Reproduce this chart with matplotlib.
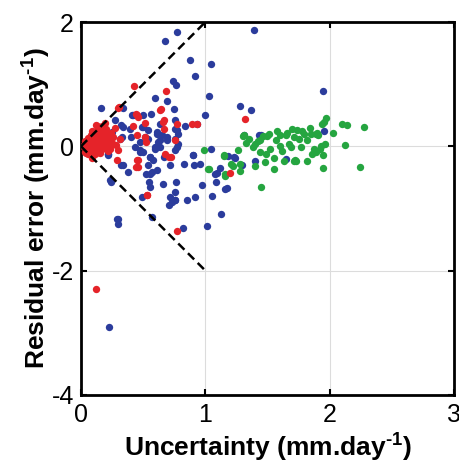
import matplotlib.pyplot as plt

plt.rcParams['font.family'] = ['Liberation Sans', 'DejaVu Sans']
plt.rcParams['mathtext.fontset'] = 'custom'
plt.rcParams['mathtext.rm'] = 'Liberation Sans:bold'
plt.rcParams['mathtext.bf'] = 'Liberation Sans:bold'
plt.rcParams['axes.unicode_minus'] = False

# blue points (uncertainty, residual error)
blue_x = [0.772, 0.677, 0.879, 1.048, 0.914, 0.737, 0.766, 1.027, 0.597, 0.691,
          0.159, 0.750, 1.277, 1.371, 1.000, 0.839, 0.274, 0.341, 0.409, 0.489,
          0.543, 0.637, 0.758, 0.772, 0.610, 0.247, 0.328, 0.476, 0.543, 0.637,
          0.691, 0.758, 0.597, 0.637, 0.772, 0.476, 0.556, 0.664, 0.220, 0.341,
          0.382, 0.543, 0.556, 0.610, 0.718, 0.825, 0.906, 0.954, 0.234, 0.551,
          0.659, 0.766, 0.973, 0.758, 0.718, 0.731, 0.852, 0.914, 1.054, 0.898,
          1.080, 1.161, 1.129, 0.301, 0.570, 1.228, 1.296, 1.390, 0.288, 0.301,
          0.710, 0.758, 0.817, 1.014, 0.226, 1.946, 1.952, 1.430, 1.046, 1.183,
          1.242, 1.398, 1.651, 1.121, 1.094, 1.086, 1.175, 0.419, 0.500, 0.567,
          0.325, 0.392, 0.500, 0.608, 0.648, 0.755, 0.782, 0.245, 0.312, 0.406,
          0.513, 0.621, 0.688, 0.782, 0.433, 0.500, 0.594, 0.755, 0.218, 0.554,
          0.903, 0.218, 0.473, 0.581, 0.325, 0.527, 0.573, 0.245, 0.554, 0.487,
          0.755, 0.339, 0.933, 1.310, 1.450]
blue_y = [1.838, 1.688, 1.383, 1.330, 1.125, 1.045, 0.981, 0.809, 0.783, 0.728,
          0.616, 0.595, 0.643, 0.590, 0.498, 0.320, 0.429, 0.310, 0.498, 0.310,
          0.257, 0.365, 0.418, 0.257, 0.204, 0.230, 0.150, 0.069, 0.124, 0.096,
          0.150, 0.124, -0.011, -0.011, -0.011, -0.092, -0.172, -0.172, -0.117, -0.305,
          -0.413, -0.305, -0.439, -0.386, -0.305, -0.289, -0.305, -0.278, -0.547, -0.574,
          -0.600, -0.574, -0.627, -0.735, -0.815, -0.895, -0.857, -0.815, -0.804, -0.145,
          -0.439, -0.680, -1.082, -1.162, -1.137, -0.172, -0.305, 1.880, -1.162, -1.243,
          -0.949, -0.868, -1.307, -1.286, -2.905, 0.884, 0.246, 0.177, -0.037, -0.161,
          -0.188, -0.241, -0.198, -0.349, -0.429, -0.574, -0.664, 0.498, 0.498, 0.525,
          0.338, 0.284, 0.310, 0.230, 0.177, 0.284, 0.204, 0.204, 0.124, 0.150,
          0.150, 0.069, 0.096, 0.043, -0.011, -0.092, -0.037, -0.064, -0.117, -0.172,
          -0.145, -0.145, -0.064, -0.225, -0.305, -0.439, -0.413, -0.574, -0.654, -0.815,
          -0.857, 0.622, 0.354, 0.177, 0.177]

# red points
red_x = [0.427, 0.680, 0.643, 0.298, 0.632, 0.309, 0.449, 0.516, 0.664, 0.417,
         0.933, 0.892, 0.449, 0.516, 0.664, 0.704, 0.449, 0.462, 0.530, 1.323,
         1.196, 0.315, 0.446, 0.460, 0.661, 0.769, 0.527, 0.755, 0.285, 0.675,
         0.298, 0.293, 0.460, 0.446, 0.723, 0.535, 0.774, 0.118,
         0.02, 0.03, 0.04, 0.05, 0.05, 0.06, 0.07, 0.07, 0.08, 0.08,
         0.09, 0.10, 0.10, 0.10, 0.11, 0.12, 0.12, 0.13, 0.13, 0.14,
         0.14, 0.15, 0.15, 0.16, 0.16, 0.17, 0.17, 0.18, 0.18, 0.19,
         0.19, 0.20, 0.20, 0.21, 0.22, 0.22, 0.23, 0.24, 0.25, 0.26,
         0.27, 0.09, 0.11, 0.06, 0.04, 0.13, 0.03, 0.03, 0.09, 0.14,
         0.12, 0.17, 0.21, 0.24, 0.08, 0.15, 0.19, 0.23, 0.11, 0.06]
red_y = [0.965, 0.889, 0.606, 0.622, 0.590, 0.632, 0.498, 0.375, 0.429, 0.322,
         0.365, 0.354, 0.177, 0.150, 0.284, -0.172, -0.214, -0.333, -0.788, 0.445,
         -0.429, 0.124, 0.525, 0.470, 0.390, 0.365, 0.069, 0.096, 0.016, -0.117,
         -0.064, -0.225, -0.225, -0.333, -0.172, -0.788, -1.367, -2.300,
         0.00, 0.03, -0.03, 0.05, -0.06, 0.01, 0.08, -0.04, 0.12, 0.02,
         -0.08, 0.15, 0.05, -0.02, 0.20, 0.10, -0.06, 0.25, 0.00, 0.15,
         0.07, -0.10, 0.30, 0.20, 0.03, 0.12, -0.05, 0.25, 0.06, 0.17,
         -0.02, 0.10, 0.28, 0.02, 0.18, -0.08, 0.12, 0.22, 0.05, 0.15,
         0.30, 0.25, -0.12, -0.12, -0.10, 0.32, 0.08, -0.09, -0.18, -0.06,
         0.35, 0.33, 0.06, 0.02, 0.18, 0.12, 0.38, -0.04, 0.04, 0.14]

# green points
green_x = [1.968, 1.954, 2.100, 2.140, 2.280, 2.030, 2.120, 2.240, 1.950, 1.950,
           1.960, 1.870, 1.890, 1.860, 1.820, 1.710, 1.730, 1.630, 1.690, 1.670,
           1.600, 1.600, 1.650, 1.510, 1.500, 1.440, 1.400, 1.380, 1.440, 1.490,
           1.550, 1.480, 1.400, 1.280, 1.280, 1.210, 1.160, 1.020, 0.990, 1.260,
           1.150, 1.300, 1.450, 1.550, 1.740, 1.700, 1.750, 1.790, 1.850, 1.890,
           1.820, 1.770, 1.310, 1.460, 1.710, 1.910, 1.940, 1.150, 1.030, 1.160,
           1.220, 1.350, 1.330, 1.420, 1.570, 1.620, 1.520, 1.780, 1.840, 1.900,
           1.660, 1.720, 1.920, 1.930, 1.580]
green_y = [0.455, 0.390, 0.360, 0.350, 0.310, 0.210, 0.020, -0.340, -0.350, -0.140,
           0.040, -0.040, -0.090, -0.130, -0.240, -0.230, -0.230, -0.240, -0.010, 0.030,
           0.005, 0.180, 0.190, 0.200, 0.160, 0.100, 0.040, -0.010, -0.090, -0.130,
           -0.180, -0.260, -0.320, -0.390, -0.280, -0.290, -0.450, -0.370, -0.060, -0.060,
           -0.160, 0.160, -0.660, -0.370, 0.260, 0.280, 0.120, 0.200, 0.200, 0.200,
           0.100, -0.010, 0.180, 0.160, 0.150, 0.180, 0.360, -0.140, -0.370, -0.470,
           -0.310, 0.120, 0.050, 0.080, 0.100, -0.080, -0.050, 0.250, 0.300, 0.220,
           0.220, -0.220, -0.040, 0.000, 0.250]

fig = plt.figure(figsize=(4.6, 4.7), dpi=100)
ax = fig.add_axes([0.176, 0.160, 0.811, 0.793])

ax.grid(True, color='#dcdcdc', linewidth=0.8)
ax.set_axisbelow(True)

ax.scatter(blue_x, blue_y, s=28, color='#2b3c9c', linewidths=0, zorder=3)
ax.scatter(green_x, green_y, s=28, color='#25a540', linewidths=0, zorder=3)
ax.scatter(red_x, red_y, s=28, color='#e52329', linewidths=0, zorder=4)

ax.plot([0, 1], [0, 2], 'k--', lw=1.8, dashes=(3.5, 2), zorder=5)
ax.plot([0, 1], [0, -2], 'k--', lw=1.8, dashes=(3.5, 2), zorder=5)

ax.set_xlim(0, 3)
ax.set_ylim(-4, 2)
ax.set_xticks([0, 1, 2, 3])
ax.set_yticks([-4, -2, 0, 2])
ax.tick_params(direction='in', top=True, right=True, length=4, width=1.5,
               labelsize=18)
ax.tick_params(axis='x', pad=6)
ax.tick_params(axis='y', pad=5)
for sp in ax.spines.values():
    sp.set_linewidth(2)

# superscript with a short hyphen, like the original figure
ax.set_xlabel(r'Uncertainty (mm.day$^{\text{-}1}$)', fontsize=19,
              fontweight='bold', labelpad=2)
ax.set_ylabel(r'Residual error (mm.day$^{\text{-}1}$)', fontsize=19,
              fontweight='bold', labelpad=0)

fig.savefig('out.png', dpi=100)
